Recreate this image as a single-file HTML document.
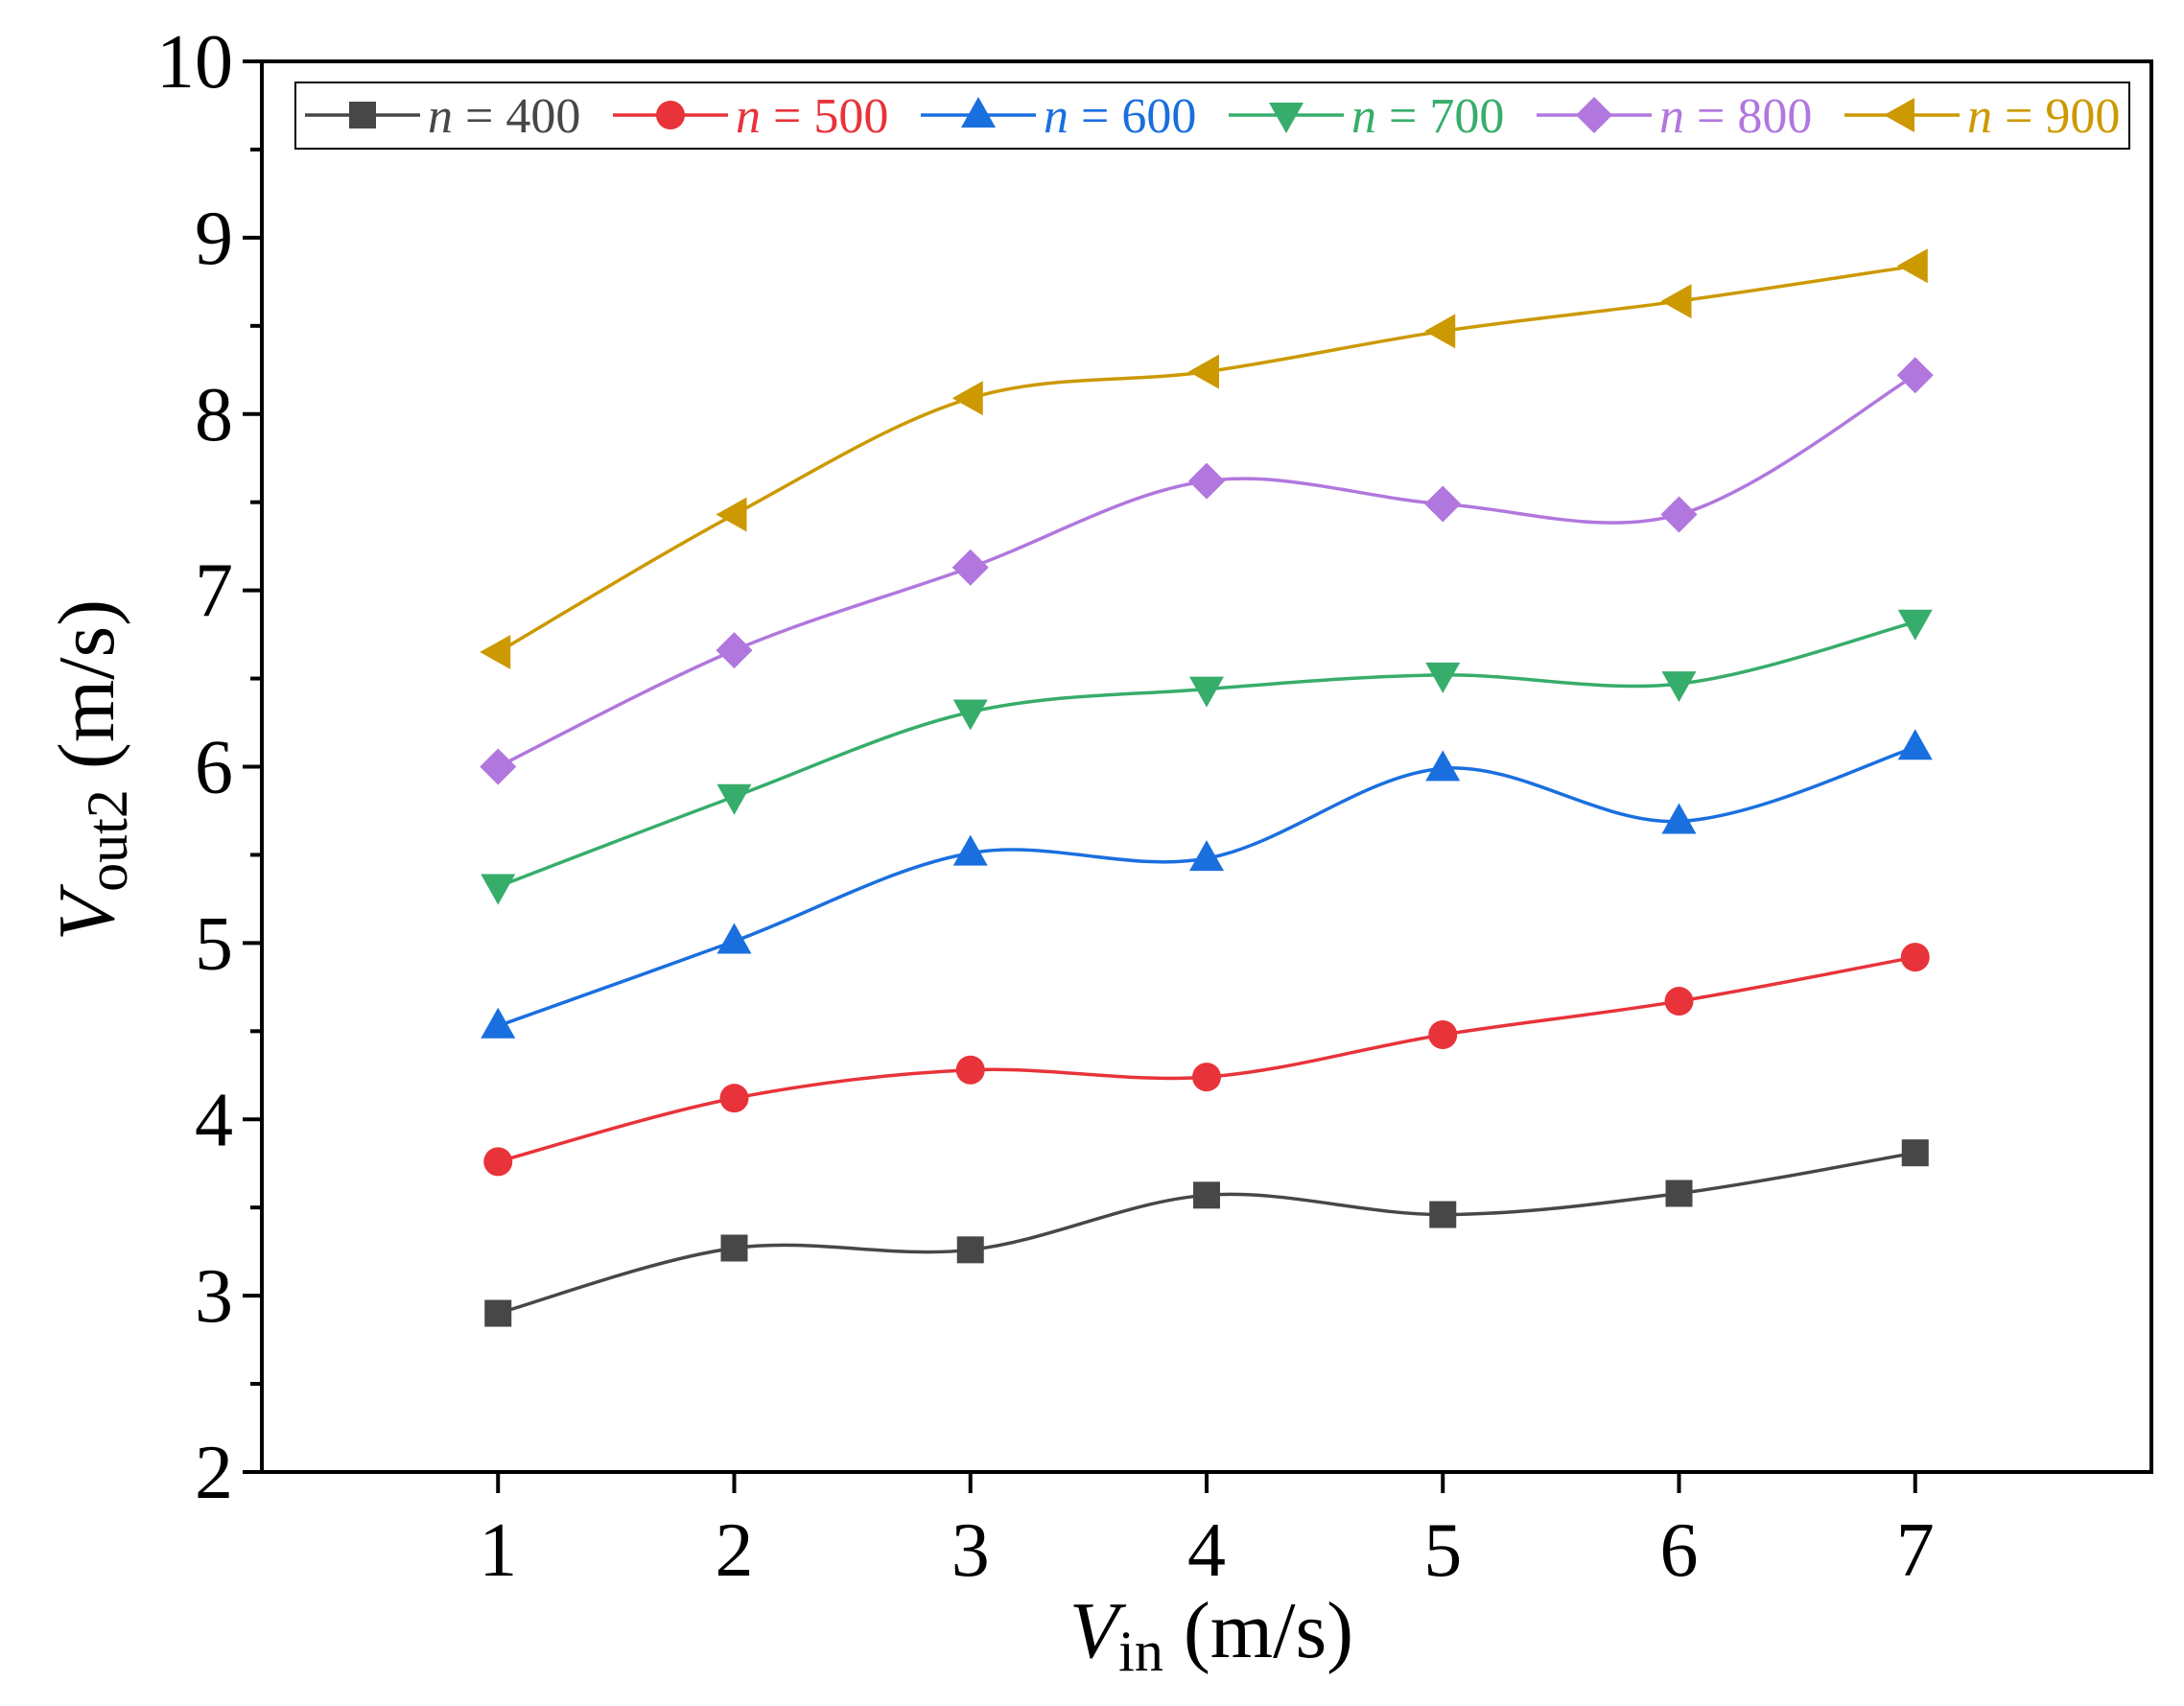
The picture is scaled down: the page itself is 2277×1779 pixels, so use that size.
<!DOCTYPE html>
<html><head><meta charset="utf-8"><style>html,body{margin:0;padding:0;background:#fff}svg{display:block;font-family:"Liberation Serif",serif}</style></head>
<body>
<svg id="chart" width="2277" height="1779" viewBox="0 0 2277 1779" xmlns="http://www.w3.org/2000/svg">
<rect x="0" y="0" width="2277" height="1779" fill="#fff"/>
<g id="plot"></g>
<rect x="273" y="64" width="1970" height="1471" fill="none" stroke="#000" stroke-width="4"/>
<text transform="translate(118,803) rotate(-90)" text-anchor="middle" font-size="84"><tspan font-style="italic">V</tspan><tspan font-size="60" dy="14">out2</tspan><tspan dy="-14"> (m/s)</tspan></text>
<text x="1263" y="1728" text-anchor="middle" font-size="84"><tspan font-style="italic">V</tspan><tspan font-size="60" dy="14">in</tspan><tspan dy="-14"> (m/s)</tspan></text>
<g id="legend"><rect x="308" y="86" width="1912" height="69" fill="#fff" stroke="#000" stroke-width="2"/></g>
</svg>
<script>
const categories=[1,2,3,4,5,6,7];
const seriesNames=['400','500','600','700','800','900'];
const s400=[2.9,3.27,3.26,3.57,3.46,3.58,3.81];
const s500=[3.76,4.12,4.28,4.24,4.48,4.67,4.92];
const s600=[4.53,5.01,5.51,5.48,5.99,5.69,6.11];
const s700=[5.32,5.83,6.31,6.44,6.52,6.47,6.82];
const s800=[6.0,6.66,7.13,7.62,7.49,7.43,8.22];
const s900=[6.65,7.43,8.09,8.24,8.47,8.64,8.84];
const yTicks=[2,3,4,5,6,7,8,9,10];
const xTicks=[1,2,3,4,5,6,7];
const series=[s400,s500,s600,s700,s800,s900];
const colors=['#474747','#e8333a','#1a6fdf','#37ad6b','#b177de','#cc9900'];
const markers=['square','circle','up','down','diamond','left'];
const L=273,R=2243,T=64,B=1535;
const X=v=>L+(v-0)/(8-0)*(R-L);
const Y=v=>B-(v-2)/(10-2)*(B-T);
const NS='http://www.w3.org/2000/svg';
const svg=document.getElementById('chart');
const plot=document.getElementById('plot');
const legend=document.getElementById('legend');
function mk(t,a,p){const e=document.createElementNS(NS,t);for(const k in a)e.setAttribute(k,a[k]);(p||svg).appendChild(e);return e;}
yTicks.forEach(v=>{
  const l=mk('line',{x1:L-20,x2:L,y1:Y(v),y2:Y(v),stroke:'#000','stroke-width':4});
  
  
  const t=mk('text',{x:L-30,y:Y(v)+27,'text-anchor':'end','font-size':80});
  
  
  t.textContent=v;
  if(v<10){const m=mk('line',{x1:L-12,x2:L,y1:Y(v+0.5),y2:Y(v+0.5),stroke:'#000','stroke-width':4});
  
  }
});
xTicks.forEach(v=>{
  const l=mk('line',{x1:X(v),x2:X(v),y1:B,y2:B+22,stroke:'#000','stroke-width':4});
  
  
  const t=mk('text',{x:X(v),y:B+108,'text-anchor':'middle','font-size':80});
  
  
  t.textContent=v;
});
function marker(type,x,y,c,p){
  let e;const s=14;
  if(type==='square')e=mk('rect',{x:x-s,y:y-s,width:2*s,height:2*s,fill:c},p);
  else if(type==='circle')e=mk('circle',{cx:x,cy:y,r:15,fill:c},p);
  else if(type==='diamond')e=mk('polygon',{points:`${x},${y-19} ${x+19},${y} ${x},${y+19} ${x-19},${y}`,fill:c},p);
  else if(type==='up')e=mk('polygon',{points:`${x},${y-19} ${x+18},${y+13} ${x-18},${y+13}`,fill:c},p);
  else if(type==='down')e=mk('polygon',{points:`${x},${y+19} ${x+18},${y-13} ${x-18},${y-13}`,fill:c},p);
  else e=mk('polygon',{points:`${x-19},${y} ${x+13},${y-18} ${x+13},${y+18}`,fill:c},p);
  return e;
}
function spline(pts){
  let d=`M${pts[0][0]},${pts[0][1]}`;
  for(let i=0;i<pts.length-1;i++){
    const p0=pts[Math.max(i-1,0)],p1=pts[i],p2=pts[i+1],p3=pts[Math.min(i+2,pts.length-1)];
    const c1=[p1[0]+(p2[0]-p0[0])/6,p1[1]+(p2[1]-p0[1])/6];
    const c2=[p2[0]-(p3[0]-p1[0])/6,p2[1]-(p3[1]-p1[1])/6];
    d+=` C${c1[0]},${c1[1]} ${c2[0]},${c2[1]} ${p2[0]},${p2[1]}`;
  }
  return d;
}
series.forEach((s,i)=>{
  const pts=s.map((v,j)=>[X(categories[j]),Y(v)]);
  const path=mk('path',{d:spline(pts),fill:'none',stroke:colors[i],'stroke-width':3.5},plot);
  
  
  pts.forEach(p=>{const m=marker(markers[i],p[0],p[1],colors[i],plot);
    
    });
  const lx=318+i*321, ly=120;
  const ll=mk('line',{x1:lx,x2:lx+120,y1:ly,y2:ly,stroke:colors[i],'stroke-width':3.5},legend);
  
  
  const lm=marker(markers[i],lx+60,ly,colors[i],legend);
  
  
  const t=mk('text',{x:lx+128,y:ly+18,'font-size':52,fill:colors[i]},legend);
  
  
  t.innerHTML='<tspan font-style="italic">n</tspan> = '+seriesNames[i];
});
</script>
</body></html>
